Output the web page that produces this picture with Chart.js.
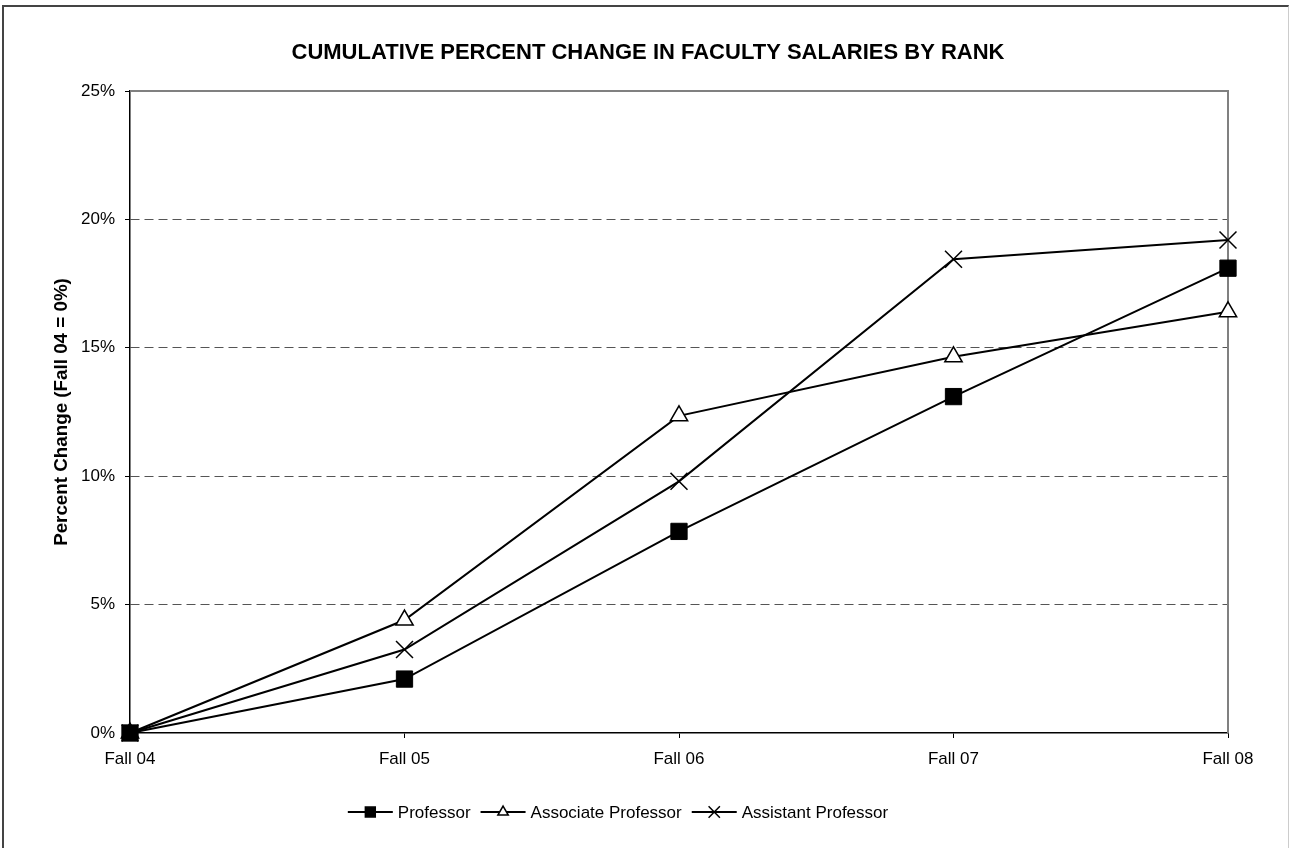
<!DOCTYPE html>
<html>
<head>
<meta charset="utf-8">
<script src="https://cdn.jsdelivr.net/npm/chart.js@4/dist/chart.umd.min.js"></script>
<style>
  html, body { margin: 0; padding: 0; background: #fff; overflow: hidden; }
  #wrap { position: relative; width: 1289px; height: 848px; }
  #frame {
    position: absolute; left: 2px; top: 5px; width: 1284px; height: 900px;
    border-top: 2px solid #444; border-left: 2px solid #444; border-right: 1px solid #ccc;
    pointer-events: none;
  }
</style>
</head>
<body>
<div id="wrap">
  <canvas id="salaryChart" width="1289" height="848"></canvas>
  <div id="frame"></div>
</div>
<script>
// Datos
const years = ["Fall 04", "Fall 05", "Fall 06", "Fall 07", "Fall 08"];
const professor = [0, 2.1, 7.85, 13.1, 18.1];
const associateProfessor = [0, 4.4, 12.35, 14.65, 16.4];
const assistantProfessor = [0, 3.25, 9.8, 18.45, 19.2];
const yTicks = [0, 5, 10, 15, 20, 25];

const chartTitle = "CUMULATIVE PERCENT CHANGE IN FACULTY SALARIES BY RANK";
const FONT = "'Liberation Sans', Arial, sans-serif";

// Marco del área de trazado: arriba y derecha en gris
const plotFrame = {
    id: "plotFrame",
    beforeDatasetsDraw(chart) {
        const { ctx, chartArea: a } = chart;
        ctx.save();
        ctx.strokeStyle = "#808080";
        ctx.lineWidth = 2;
        ctx.beginPath();
        ctx.moveTo(a.left, a.top);
        ctx.lineTo(a.right, a.top);
        ctx.lineTo(a.right, a.bottom);
        ctx.stroke();
        ctx.restore();
    }
};

// Título centrado en el ancho total, como en Excel
const excelTitle = {
    id: "excelTitle",
    afterDraw(chart) {
        const { ctx } = chart;
        ctx.save();
        ctx.font = "bold 22px " + FONT;
        ctx.fillStyle = "#000";
        ctx.textAlign = "center";
        ctx.textBaseline = "middle";
        ctx.fillText(chartTitle, 648, 53);
        ctx.restore();
    }
};

// Leyenda estilo Excel: línea con marcador en el centro
const lineLegend = {
    id: "lineLegend",
    afterDraw(chart) {
        const { ctx } = chart;
        const y = 812;
        const lineLen = 45;
        ctx.save();
        ctx.font = "17px " + FONT;
        ctx.textBaseline = "middle";
        const items = chart.data.datasets.map(ds => ({ ds, w: ctx.measureText(ds.label).width }));
        const total = items.reduce((s, it) => s + lineLen + 5 + it.w, 0) + 10 * (items.length - 1);
        let x = 618 - total / 2;
        items.forEach(it => {
            ctx.strokeStyle = "#000";
            ctx.lineWidth = 2;
            ctx.beginPath();
            ctx.moveTo(x, y);
            ctx.lineTo(x + lineLen, y);
            ctx.stroke();
            ctx.fillStyle = it.ds.pointBackgroundColor;
            ctx.strokeStyle = "#000";
            ctx.lineWidth = 1.5;
            Chart.helpers.drawPoint(ctx, {
                pointStyle: it.ds.pointStyle,
                radius: it.ds.legendRadius,
                rotation: 0,
                borderWidth: 1.5
            }, x + lineLen / 2, y);
            ctx.fillStyle = "#000";
            ctx.fillText(it.ds.label, x + lineLen + 5, y + 1);
            x += lineLen + 5 + it.w + 10;
        });
        ctx.restore();
    }
};

const ctx = document.getElementById("salaryChart").getContext("2d");
const chart = new Chart(ctx, {
    type: "line",
    data: {
        labels: years,
        datasets: [{
            label: "Professor",
            data: professor,
            borderColor: "#000",
            borderWidth: 2,
            pointStyle: "rect",
            pointRadius: 11.5,
            pointBackgroundColor: "#000",
            pointBorderColor: "#000",
            pointBorderWidth: 1,
            legendRadius: 7,
            clip: false,
            tension: 0
        }, {
            label: "Associate Professor",
            data: associateProfessor,
            borderColor: "#000",
            borderWidth: 2,
            pointStyle: "triangle",
            pointRadius: 10,
            pointBackgroundColor: "#fff",
            pointBorderColor: "#000",
            pointBorderWidth: 1.5,
            legendRadius: 6,
            clip: false,
            tension: 0
        }, {
            label: "Assistant Professor",
            data: assistantProfessor,
            borderColor: "#000",
            borderWidth: 2,
            pointStyle: "crossRot",
            pointRadius: 12,
            pointBackgroundColor: "#000",
            pointBorderColor: "#000",
            pointBorderWidth: 1.5,
            legendRadius: 8,
            clip: false,
            tension: 0
        }]
    },
    options: {
        responsive: false,
        animation: false,
        events: [],
        layout: { padding: { left: 0, right: 61, top: 91, bottom: 0 } },
        plugins: {
            legend: { display: false },
            tooltip: { enabled: false },
            title: { display: false }
        },
        scales: {
            x: {
                offset: false,
                afterFit: scale => { scale.height = 115; },
                grid: {
                    drawOnChartArea: false,
                    drawTicks: true,
                    tickLength: 5,
                    tickColor: "#000",
                    tickWidth: 1
                },
                border: { display: true, color: "#000", width: 1.5 },
                ticks: {
                    color: "#000",
                    font: { family: FONT, size: 17 },
                    padding: 11,
                    maxRotation: 0
                }
            },
            y: {
                min: 0,
                max: 25,
                afterFit: scale => { scale.width = 130; },
                afterBuildTicks: scale => { scale.ticks = yTicks.map(v => ({ value: v })); },
                grid: {
                    color: c => (c.tick && (c.tick.value === 0 || c.tick.value === 25)) ? "transparent" : "#555",
                    lineWidth: 1,
                    drawTicks: true,
                    tickLength: 5,
                    tickColor: "#000",
                    tickWidth: 1,
                    tickBorderDash: []
                },
                border: { display: true, color: "#000", width: 1.5, dash: [9, 5] },
                ticks: {
                    color: "#000",
                    font: { family: FONT, size: 17 },
                    padding: 10,
                    callback: v => v + "%"
                },
                title: {
                    display: true,
                    text: "Percent Change (Fall 04 = 0%)",
                    color: "#000",
                    font: { family: FONT, size: 18.8, weight: "bold" },
                    padding: { top: 51, bottom: 0 }
                }
            }
        }
    },
    plugins: [plotFrame, excelTitle, lineLegend]
});
</script>
</body>
</html>
